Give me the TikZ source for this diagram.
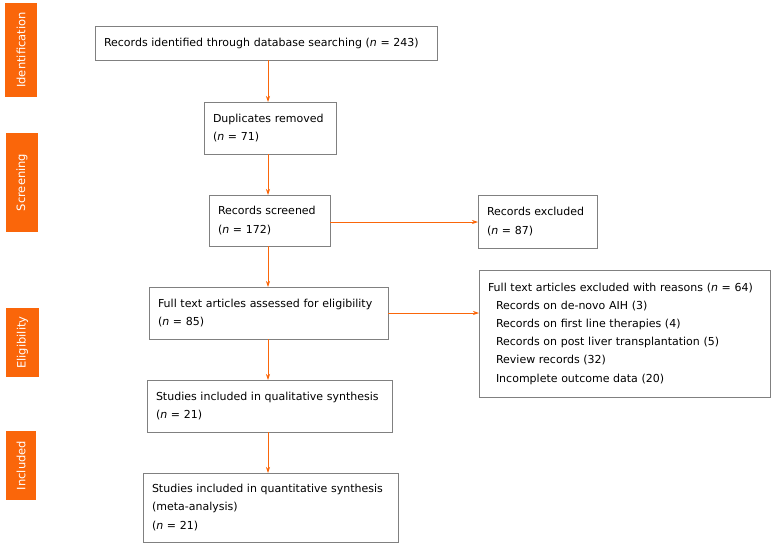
\documentclass[tikz,border=0pt]{standalone}
\usepackage{fontspec}
\usetikzlibrary{arrows.meta}
\setmainfont{DejaVu Sans}
\definecolor{stageorange}{RGB}{250,102,10}
\definecolor{boxgray}{RGB}{128,128,128}
\begin{document}
\begin{tikzpicture}[x=1pt,y=-1pt,
  every node/.style={outer sep=0pt, font=\fontsize{11}{18.2}\selectfont},
  box/.style={draw=boxgray, line width=0.8pt, align=left, inner xsep=9pt, inner ysep=0pt},
  stage/.style={fill=stageorange, text=white, rotate=90, inner sep=0pt, font=\fontsize{11.5}{14}\selectfont},
  arr/.style={draw=stageorange, line width=0.7pt, -{Stealth[length=6pt,width=4pt]}}]
\useasboundingbox (0,0) rectangle (777,549);
% stage labels
\node[stage, minimum width=94pt, minimum height=32pt] (ident) at (21,50) {Identification};
\node[stage, minimum width=99pt, minimum height=32pt] (screen) at (22,182.5) {Screening};
\node[stage, minimum width=69pt, minimum height=33pt] (elig) at (22.5,342.5) {Eligibility};
\node[stage, minimum width=69pt, minimum height=30pt] (incl) at (21,465.5) {Included};
% flow boxes
\node[box, text width=324pt, minimum height=34pt] (found) at (266,43) {Records identified through database searching (\textit{n} = 243)};
\node[box, text width=114pt, minimum height=52pt] (dup) at (270,128) {Duplicates removed\\(\textit{n} = 71)};
\node[box, text width=103pt, minimum height=51pt] (screened) at (269.5,220.5) {Records screened\\(\textit{n} = 172)};
\node[box, text width=101pt, minimum height=53pt] (excl) at (537.5,221.5) {Records excluded\\(\textit{n} = 87)};
\node[box, text width=221pt, minimum height=52pt] (fulltext) at (268.5,313) {Full text articles assessed for eligibility\\(\textit{n} = 85)};
\node[box, text width=273pt, minimum height=127pt] (reasons) at (624.5,333.5) {Full text articles excluded with reasons (\textit{n} = 64)\\
\hspace*{8pt}Records on de-novo AIH (3)\\
\hspace*{8pt}Records on first line therapies (4)\\
\hspace*{8pt}Records on post liver transplantation (5)\\
\hspace*{8pt}Review records (32)\\
\hspace*{8pt}Incomplete outcome data (20)};
\node[box, text width=227pt, minimum height=52pt] (qual) at (269.5,406) {Studies included in qualitative synthesis\\(\textit{n} = 21)};
\node[box, text width=237pt, minimum height=69pt] (quant) at (270.5,507.5) {Studies included in quantitative synthesis\\(meta-analysis)\\(\textit{n} = 21)};
% arrows
\coordinate (spine) at (268,0);
\draw[arr] (found.south -| spine) -- (dup.north -| spine);
\draw[arr] (dup.south -| spine) -- (screened.north -| spine);
\draw[arr] (screened.south -| spine) -- (fulltext.north -| spine);
\draw[arr] (fulltext.south -| spine) -- (qual.north -| spine);
\draw[arr] (qual.south -| spine) -- (quant.north -| spine);
\draw[arr] (screened.east |- 0,222) -- (excl.west |- 0,222);
\draw[arr] (fulltext.east) -- (fulltext.east -| reasons.west);
\end{tikzpicture}
\end{document}
